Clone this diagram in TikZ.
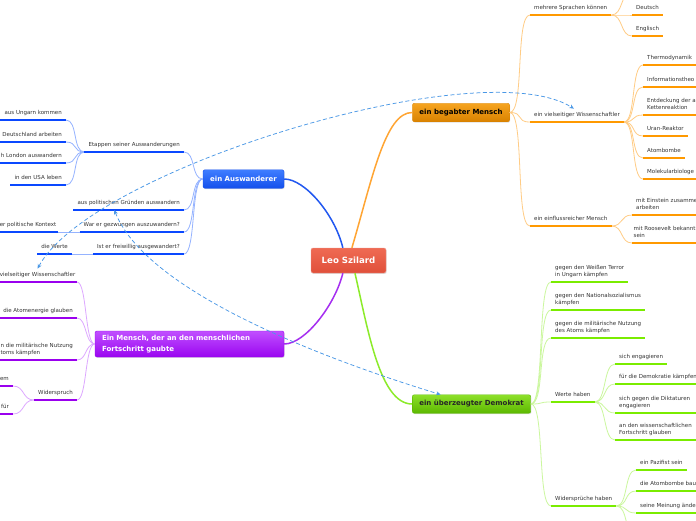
\documentclass[tikz,border=0pt]{standalone}
\usepackage{fontspec}
\setmainfont{DejaVu Sans}
\usepackage{tikz}
\usetikzlibrary{arrows.meta,shadows}
\usepackage{xcolor}
\definecolor{RootRed}{HTML}{E0503A}
\definecolor{RootRedTop}{HTML}{EF6A53}
\definecolor{OrangeBoxTop}{HTML}{F6A420}
\definecolor{OrangeBox}{HTML}{D98200}
\definecolor{OrangeMain}{HTML}{FFA533}
\definecolor{OrangeLine}{HTML}{FF9900}
\definecolor{OrangeThin}{HTML}{FFCC85}
\definecolor{BlueBoxTop}{HTML}{3F7DFF}
\definecolor{BlueBox}{HTML}{1450EC}
\definecolor{BlueMain}{HTML}{2258F0}
\definecolor{BlueLine}{HTML}{0A48FF}
\definecolor{BlueThin}{HTML}{95B3FF}
\definecolor{PurpleBoxTop}{HTML}{C050FF}
\definecolor{PurpleBox}{HTML}{9A05F0}
\definecolor{PurpleMain}{HTML}{A52EF0}
\definecolor{PurpleLine}{HTML}{9A00EE}
\definecolor{PurpleThin}{HTML}{DDA8FF}
\definecolor{GreenBoxTop}{HTML}{8DE02A}
\definecolor{GreenBox}{HTML}{5CB800}
\definecolor{GreenMain}{HTML}{8CEB2A}
\definecolor{GreenLine}{HTML}{7AEC00}
\definecolor{GreenThin}{HTML}{CBF79E}
\definecolor{LinkBlue}{HTML}{4A98E6}

\begin{document}
\begin{tikzpicture}[x=1pt, y=-1pt,
				rootbox/.style={rounded corners=2pt, top color=RootRedTop, bottom color=RootRed, draw=RootRed!55,
					minimum width=75pt, minimum height=25pt, text=white,
					font=\bfseries\fontsize{8.6}{10}\selectfont,
					drop shadow={shadow xshift=0.7pt, shadow yshift=-0.9pt, opacity=0.25}},
				mainbox/.style={rounded corners=2pt, minimum height=18.5pt, inner xsep=7pt,
					font=\bfseries\fontsize{7}{10.5}\selectfont,
					drop shadow={shadow xshift=0.7pt, shadow yshift=-0.9pt, opacity=0.25}},
				orgbox/.style={mainbox, top color=OrangeBoxTop, bottom color=OrangeBox, draw=OrangeBox, text=black},
				blubox/.style={mainbox, top color=BlueBoxTop, bottom color=BlueBox, draw=BlueBox, text=white},
				purbox/.style={mainbox, top color=PurpleBoxTop, bottom color=PurpleBox, draw=PurpleBox, text=white},
				grnbox/.style={mainbox, top color=GreenBoxTop, bottom color=GreenBox, draw=GreenBox, text=black!85},
				subr/.style={anchor=south west, inner xsep=4pt, inner ysep=3.5pt, text depth=1.8pt,
					align=left, text=black!80, font=\fontsize{5.5}{7}\selectfont},
				subl/.style={subr, anchor=south east},
				cutl/.style={text width=#1, align=right},
				tight/.style={inner xsep=1.5pt},
				branch/.style={line width=1.5pt},
				thinline/.style={line width=0.8pt},
				uline/.style={line width=2.6pt},
				link/.style={LinkBlue, line width=0.75pt, dash pattern=on 4pt off 2.5pt,
					{Stealth[length=4.5pt,width=4pt]}-{Stealth[length=4.5pt,width=4pt]}}
				]
				\useasboundingbox (0,0) rectangle (696,520);
				\clip (0,0) rectangle (696,520);
				\fill[white] (0,0) rectangle (696,520);

				% Hauptthemen
				\node[rootbox] (leo) at (348.5,260.5) {Leo Szilard};
				\node[orgbox, minimum width=96pt] (org) at (461,112.5) {ein begabter Mensch};
				\node[blubox, minimum width=81pt] (blu) at (243.5,179) {ein Auswanderer};
				\node[purbox, text width=175pt, align=left, minimum height=26pt] (pur) at (189.5,344) {Ein Mensch, der an den menschlichen\\Fortschritt gaubte};
				\node[grnbox, minimum width=117pt] (grn) at (471.5,404) {ein überzeugter Demokrat};

				\draw[branch, OrangeMain] (leo.75) .. controls (372,180) and (385,112) .. (org.west);
				\draw[branch, BlueMain] (leo.114) .. controls (335,215) and (305,179) .. (blu.east);
				\draw[branch, PurpleMain] (leo.246) .. controls (335,305) and (305,344) .. (pur.east);
				\draw[branch, GreenMain] (leo.297) .. controls (368,330) and (380,404) .. (grn.west);

				% ein begabter Mensch
				\node[subr] (spr) at (530,15) {mehrere Sprachen können};
				\node[subr] (deu) at (632,15) {Deutsch};
				\node[subr] (eng) at (632,36) {Englisch};
				\coordinate (sprup) at (632,-8);
				\node[subr] (wis) at (530,122) {ein vielseitiger Wissenschaftler};
				\node[subr] (the) at (643,65) {Thermodynamik};
				\node[subr] (inf) at (643,87) {Informationstheo};
				\node[subr] (ent) at (643,115) {Entdeckung der a\\Kettenreaktion};
				\node[subr] (ura) at (643,136) {Uran-Reaktor};
				\node[subr] (atb) at (643,158) {Atombombe};
				\node[subr] (mol) at (643,179) {Molekularbiologe};
				\node[subr] (ein) at (530,226) {ein einflussreicher Mensch};
				\node[subr] (est) at (632,215) {mit Einstein zusamme\\arbeiten};
				\node[subr, tight] (roo) at (632,243) {mit Roosevelt bekannt\\sein};

				\foreach \n in {spr,wis,ein}
					\draw[thinline, OrangeThin] (org.east) .. controls +(15,0) and +(-15,0) .. (\n.south west);
				\foreach \n in {deu,eng}
					\draw[thinline, OrangeThin] (spr.south east) .. controls +(12,0) and +(-12,0) .. (\n.south west);
				\draw[thinline, OrangeThin] (spr.south east) .. controls +(12,0) and +(-12,0) .. (sprup);
				\foreach \n in {the,inf,ent,ura,atb,mol}
					\draw[thinline, OrangeThin] (wis.south east) .. controls +(12,0) and +(-12,0) .. (\n.south west);
				\foreach \n in {est,roo}
					\draw[thinline, OrangeThin] (ein.south east) .. controls +(12,0) and +(-12,0) .. (\n.south west);
				\foreach \n in {spr,deu,eng,wis,ura,atb,ein}
					\draw[uline, OrangeLine] (\n.south west) -- (\n.south east);
				\foreach \n in {the,inf,ent,mol,est,roo}
					\draw[uline, OrangeLine] (\n.south west) -- +(90,0);

				% ein Auswanderer
				\node[subl] (eta) at (184,152) {Etappen seiner Auswanderungen};
				\node[subl] (ung) at (66,120) {aus Ungarn kommen};
				\node[subl, cutl=70pt] (dtl) at (66,142) {Deutschland arbeiten};
				\node[subl, cutl=70pt] (lon) at (66,163) {h London auswandern};
				\node[subl] (usa) at (66,185) {in den USA leben};
				\node[subl] (pol) at (184,210) {aus politischen Gründen auswandern};
				\node[subl] (gez) at (184,232) {War er gezwungen auszuwandern?};
				\node[subl] (fre) at (184,254) {Ist er freiwillig ausgewandert?};
				\node[subl, tight] (kon) at (58,232) {er politische Kontext};
				\node[subl] (wrt) at (72,254) {die Werte};

				\foreach \n in {eta,pol,gez,fre}
					\draw[thinline, BlueThin] (blu.west) .. controls +(-12,0) and +(12,0) .. (\n.south east);
				\foreach \n in {ung,dtl,lon,usa}
					\draw[thinline, BlueThin] (eta.south west) .. controls +(-12,0) and +(12,0) .. (\n.south east);
				\draw[thinline, BlueThin] (gez.south west) -- (kon.south east);
				\draw[thinline, BlueThin] (fre.south west) -- (wrt.south east);
				\foreach \n in {eta,ung,dtl,lon,usa,pol,gez,fre,wrt}
					\draw[uline, BlueLine] (\n.south west) -- (\n.south east);
				\draw[uline, BlueLine] (kon.south east) -- +(-70,0);

				% Ein Mensch, der an den menschlichen Fortschritt gaubte
				\node[subl, tight] (pvw) at (77,282) {vielseitiger Wissenschaftler};
				\node[subl] (pae) at (77,318) {die Atomenergie glauben};
				\node[subl] (pmn) at (77,360) {n die militärische Nutzung\\toms kämpfen};
				\node[subl] (pwi) at (77,400) {Widerspruch};
				\node[subl, cutl=20pt] (pem) at (13,386) {em};
				\node[subl, cutl=20pt] (pfu) at (13,414) {für};

				\foreach \n in {pvw,pae,pmn,pwi}
					\draw[thinline, PurpleThin] (pur.west) .. controls +(-10,0) and +(10,0) .. (\n.south east);
				\foreach \n in {pem,pfu}
					\draw[thinline, PurpleThin] (pwi.south west) .. controls +(-12,0) and +(12,0) .. (\n.south east);
				\foreach \n in {pae,pmn,pwi,pem,pfu}
					\draw[uline, PurpleLine] (\n.south west) -- (\n.south east);
				\draw[uline, PurpleLine] (pvw.south east) -- +(-85,0);

				% ein überzeugter Demokrat
				\node[subr] (gwt) at (551,282) {gegen den Weißen Terror\\in Ungarn kämpfen};
				\node[subr] (gns) at (551,310) {gegen den Nationalsozialismus\\kämpfen};
				\node[subr] (gmn) at (551,338) {gegen die militärische Nutzung\\des Atoms kämpfen};
				\node[subr] (wer) at (551,402) {Werte haben};
				\node[subr] (sen) at (615,364) {sich engagieren};
				\node[subr] (fdk) at (615,384) {für die Demokratie kämpfen};
				\node[subr] (sgd) at (615,413) {sich gegen die Diktaturen\\engagieren};
				\node[subr] (awf) at (615,440) {an den wissenschaftlichen\\Fortschritt glauben};
				\node[subr] (wsp) at (551,506) {Widersprüche haben};
				\node[subr] (paz) at (636,470) {ein Pazifist sein};
				\node[subr] (atm) at (636,491) {die Atombombe bau};
				\node[subr] (mei) at (636,513) {seine Meinung ände};
				\coordinate (wspdn) at (636,536);

				\foreach \n in {gwt,gns,gmn,wer,wsp}
					\draw[thinline, GreenThin] (grn.east) .. controls +(14,0) and +(-14,0) .. (\n.south west);
				\foreach \n in {sen,fdk,sgd,awf}
					\draw[thinline, GreenThin] (wer.south east) .. controls +(12,0) and +(-12,0) .. (\n.south west);
				\foreach \n in {paz,atm,mei}
					\draw[thinline, GreenThin] (wsp.south east) .. controls +(12,0) and +(-12,0) .. (\n.south west);
				\draw[thinline, GreenThin] (wsp.south east) .. controls +(12,0) and +(-12,0) .. (wspdn);
				\foreach \n in {gwt,gns,gmn,wer,sen,wsp,paz}
					\draw[uline, GreenLine] (\n.south west) -- (\n.south east);
				\foreach \n in {fdk,sgd,awf,atm,mei}
					\draw[uline, GreenLine] (\n.south west) -- +(90,0);

				% Verbindungen
				\draw[link] (pvw.north) .. controls (90,170) and (480,50) .. (wis.115);
				\draw[link] (pol.205) .. controls (150,300) and (360,370) .. (grn.163);
			\end{tikzpicture}
\end{document}
